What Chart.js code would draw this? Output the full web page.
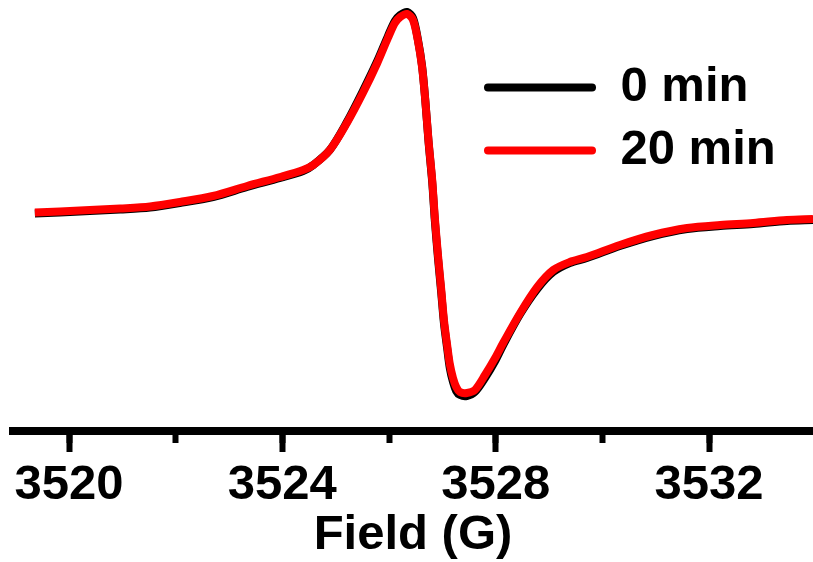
<!DOCTYPE html>
<html>
<head>
<meta charset="utf-8">
<script src="https://cdn.jsdelivr.net/npm/chart.js@4.4.1/dist/chart.umd.min.js"></script>
<style>
  html, body { margin: 0; padding: 0; background: #fff; }
  #wrap { width: 813px; height: 562px; }
</style>
</head>
<body>
<div id="wrap"><canvas id="eprChart"></canvas></div>
<script>
// Field axis (G) and EPR signal, arbitrary units
const fieldG = [3519.36, 3519.83, 3520.39, 3520.96, 3521.52, 3522.08, 3522.70, 3523.34, 3523.96, 3524.39,
  3524.58, 3524.89, 3525.21, 3525.51, 3525.78, 3525.98, 3526.11, 3526.21, 3526.34, 3526.45,
  3526.54, 3526.62, 3526.68, 3526.74, 3526.81, 3526.86, 3526.92, 3526.98, 3527.03, 3527.09,
  3527.14, 3527.20, 3527.26, 3527.33, 3527.46, 3527.61, 3527.80, 3527.99, 3528.14, 3528.46,
  3528.78, 3529.08, 3529.39, 3529.71, 3530.33, 3530.95, 3531.59, 3532.21, 3532.83, 3533.46, 3533.95];
const signal0min = [-1.5, -0.5, 1, 2.5, 4.5, 9, 15, 25, 34, 41,
  47, 62, 90, 121, 151, 176, 191, 197, 200, 194,
  173, 146, 112, 71, 30, -9, -47, -81, -111, -136,
  -156, -170, -179, -183, -184, -180, -166, -149, -133, -102,
  -77, -60, -51, -46, -34, -24, -17, -14, -12, -9, -8];
const signal20min = [-0.5, 0.5, 2, 3.5, 5.5, 10, 16, 26, 35, 42,
  47, 62, 89, 119, 149, 174, 189, 195, 198, 192,
  172, 145, 112, 72, 32, -6, -44, -78, -108, -133,
  -152, -166, -175, -180, -181, -178, -163, -146, -131, -101,
  -75, -58, -50, -45, -33, -23, -16, -13, -11, -8, -7];
const seriesNames = ['0 min', '20 min'];
const fieldMin = 3518.95;
const fieldMax = 3533.95;

Chart.defaults.font.family = '"Liberation Sans", Arial, sans-serif';
Chart.defaults.font.weight = 'bold';
Chart.defaults.color = '#000';

const toPoints = (ys) => ys.map((y, i) => ({ x: fieldG[i], y }));

// put the legend inside the plot, upper right
const legendSpot = {
  id: 'legendSpot',
  afterLayout(chart) {
    const lg = chart.legend;
    const w = lg.width, h = lg.height;
    lg.left = 470;
    lg.top = 49;
    lg.right = lg.left + w;
    lg.bottom = lg.top + h;
  }
};

new Chart(document.getElementById('eprChart'), {
  type: 'line',
  data: {
    datasets: [
      {
        label: seriesNames[0],
        data: toPoints(signal0min),
        borderColor: '#000000',
        backgroundColor: '#000000',
        borderWidth: 8,
        pointRadius: 0,
        tension: 0.3,
        order: 1
      },
      {
        label: seriesNames[1],
        data: toPoints(signal20min),
        borderColor: '#ff0000',
        backgroundColor: '#ff0000',
        borderWidth: 8,
        pointRadius: 0,
        tension: 0.3,
        order: 0
      }
    ]
  },
  options: {
    responsive: true,
    maintainAspectRatio: false,
    animation: false,
    layout: { padding: { left: 13, right: 0, top: 0, bottom: 0 } },
    plugins: {
      tooltip: { enabled: false },
      legend: {
        position: 'chartArea',
        align: 'start',
        labels: {
          boxWidth: 112,
          boxHeight: 8,
          padding: 14,
          useBorderRadius: true,
          borderRadius: 4,
          color: '#000',
          font: { size: 49, weight: 'bold', lineHeight: 1 },
          sort: (a, b) => a.datasetIndex - b.datasetIndex,
          generateLabels: (chart) => Chart.defaults.plugins.legend.labels.generateLabels(chart)
            .map(item => ({ ...item, fillStyle: item.strokeStyle, lineWidth: 0 }))
        }
      }
    },
    scales: {
      xMinor: {
        type: 'linear',
        position: 'bottom',
        weight: 0,
        min: fieldMin,
        max: fieldMax,
        ticks: { display: false, stepSize: 2, includeBounds: false },
        grid: { drawOnChartArea: false, drawTicks: true, tickLength: 12, tickWidth: 6, tickColor: '#000' },
        border: { display: false },
        afterFit: (s) => { s.height = 0; s.paddingLeft = 0; s.paddingRight = 0; }
      },
      x: {
        type: 'linear',
        position: 'bottom',
        weight: 1,
        min: fieldMin,
        max: fieldMax,
        ticks: {
          stepSize: 4,
          includeBounds: false,
          padding: 4,
          maxRotation: 0,
          color: '#000',
          font: { size: 49, weight: 'bold' },
          callback: (v) => String(v)
        },
        grid: { drawOnChartArea: false, drawTicks: true, tickLength: 21, tickWidth: 6, tickColor: '#000' },
        border: { display: true, color: '#000', width: 8 },
        title: {
          display: true,
          text: 'Field (G)',
          color: '#000',
          padding: { top: 0, bottom: 0 },
          font: { size: 49, weight: 'bold', lineHeight: 1.08 }
        },
        afterFit: (s) => { s.height = 131; s.paddingLeft = 0; s.paddingRight = 0; }
      },
      y: {
        display: false,
        min: -219,
        max: 212
      }
    }
  },
  plugins: [legendSpot]
});
</script>
</body>
</html>
